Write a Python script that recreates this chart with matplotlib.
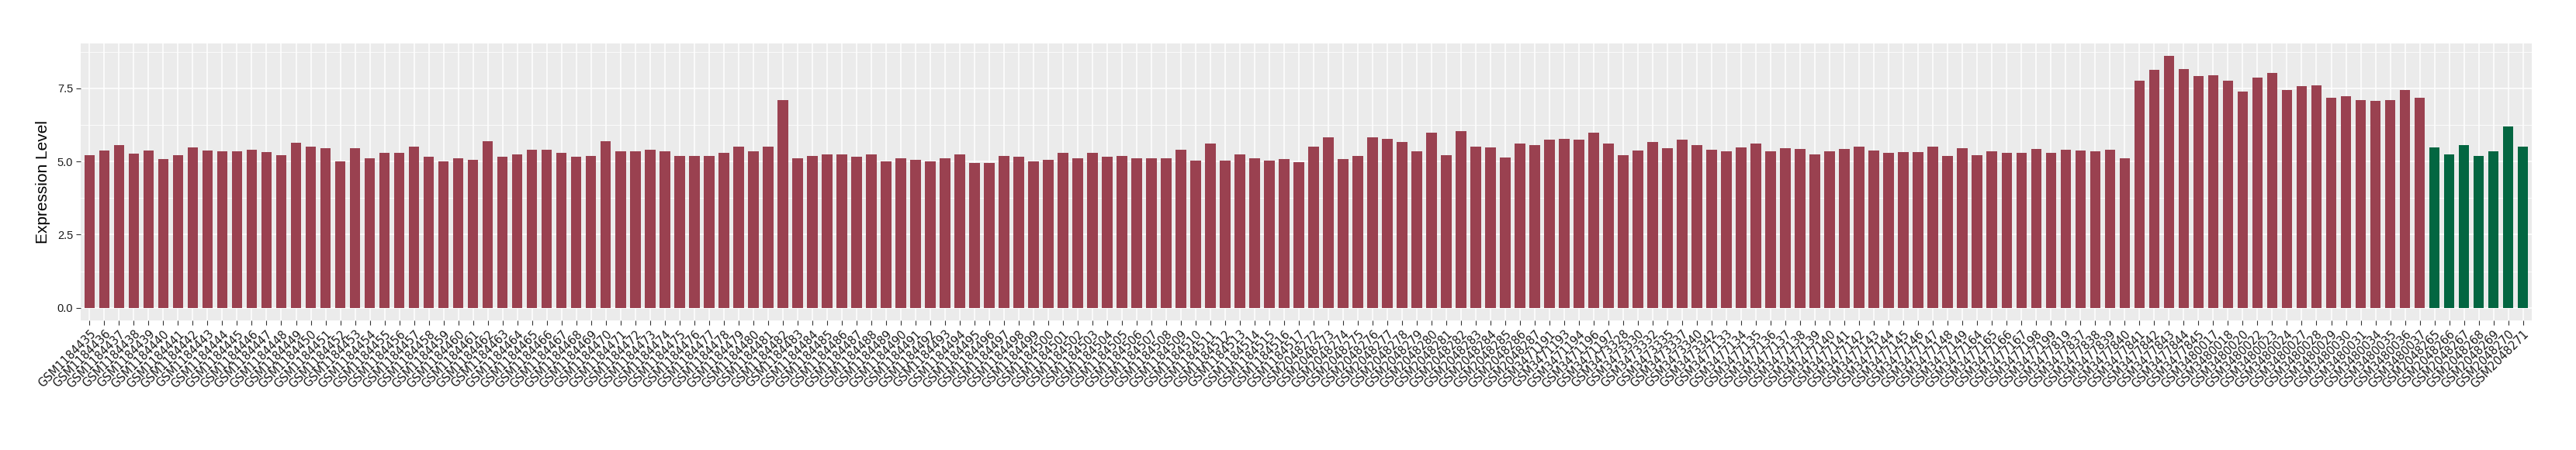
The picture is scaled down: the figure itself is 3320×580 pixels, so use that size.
import matplotlib
matplotlib.use("Agg")
import matplotlib.pyplot as plt
import numpy as np

# sample ids, in plotting order
ids_a = ["GSM%d" % n for n in range(1184435, 1184518)]
ids_b = ["GSM%d" % n for n in range(2048272, 2048288)]
ids_c = ["GSM%d" % n for n in [3471191, 3471193, 3471194, 3471196, 3471197,
                                3473328, 3473330, 3473332, 3473335, 3473337,
                                3473340, 3473342]]
ids_d = ["GSM%d" % n for n in list(range(3477133, 3477150)) +
         [3477164, 3477165, 3477166, 3477167, 3477198, 3477199, 3477819,
          3477837, 3477838, 3477839, 3477840, 3477841, 3477842, 3477843,
          3477844, 3477845]]
ids_e = ["GSM%d" % n for n in [3480017, 3480018, 3480020, 3480022, 3480023,
                                3480024, 3480027, 3480028, 3480029, 3480030,
                                3480031, 3480034, 3480035, 3480036, 3480037]]
ids_green = ["GSM%d" % n for n in range(2048265, 2048272)]

# expression values
vals_red = [
    5.22, 5.37, 5.57, 5.26, 5.37, 5.09, 5.22, 5.49, 5.37, 5.34, 5.34, 5.40,
    5.32, 5.22, 5.64, 5.52, 5.45, 5.00, 5.45, 5.10, 5.30, 5.30, 5.50, 5.15,
    5.00, 5.10, 5.05, 5.70, 5.15, 5.25, 5.40, 5.40, 5.30, 5.15, 5.20, 5.70,
    5.35, 5.35, 5.40, 5.35, 5.20, 5.20, 5.20, 5.30, 5.50, 5.35, 5.50, 7.10,
    5.10, 5.20, 5.25, 5.25, 5.15, 5.25, 5.00, 5.10, 5.05, 5.00, 5.10, 5.25,
    4.95, 4.95, 5.20, 5.15, 5.00, 5.05, 5.30, 5.10, 5.30, 5.15, 5.20, 5.10,
    5.10, 5.12, 5.40, 5.02, 5.60, 5.02, 5.24, 5.12, 5.02, 5.09, 4.97, 5.50,
    5.83, 5.09, 5.19, 5.83, 5.78, 5.67, 5.35, 5.98, 5.22, 6.05, 5.52, 5.47,
    5.14, 5.62, 5.55, 5.75, 5.78, 5.75, 5.98, 5.62, 5.22, 5.37, 5.67, 5.45,
    5.75, 5.55, 5.40, 5.35, 5.47, 5.60, 5.35, 5.45, 5.42, 5.24, 5.35, 5.42,
    5.52, 5.37, 5.30, 5.32, 5.32, 5.52, 5.19, 5.45, 5.22, 5.35, 5.30, 5.30,
    5.42, 5.30, 5.40, 5.37, 5.35, 5.40, 5.12, 7.77, 8.13, 8.61, 8.15, 7.92,
    7.95, 7.77, 7.39, 7.87, 8.03, 7.44, 7.57, 7.60, 7.19, 7.22, 7.11, 7.06,
    7.09, 7.44, 7.17,
]
vals_green = [5.47, 5.24, 5.55, 5.19, 5.35, 6.20, 5.52]

ids_red = ids_a + ids_b + ids_c + ids_d + ids_e
labels = ids_red + ids_green
values = vals_red + vals_green
colors = ["#9A4150"] * len(ids_red) + ["#036641"] * len(ids_green)

fig = plt.figure(figsize=(33.2, 5.8), dpi=100)
ax = fig.add_axes([104 / 3320, 1 - 413 / 580, (3263 - 104) / 3320, (413 - 55.7) / 580])

x = np.arange(len(labels))
ax.set_facecolor("#EBEBEB")
ax.bar(x, values, width=0.72, color=colors, zorder=3)

ax.set_xlim(-0.6, len(labels) - 0.4)
ymax = max(values)
ax.set_ylim(-0.05 * ymax, 1.05 * ymax)

ax.set_yticks([0, 2.5, 5.0, 7.5])
ax.set_yticklabels(["0.0", "2.5", "5.0", "7.5"], fontsize=10.5, color="#1a1a1a",
                   family="Liberation Sans")
ax.set_yticks([1.25, 3.75, 6.25, 8.75], minor=True)
ax.set_xticks(x)
ax.set_xticklabels(labels, rotation=45, ha="right", va="top", rotation_mode="anchor",
                   fontsize=10.5, color="#1a1a1a", family="DejaVu Sans")

ax.grid(True, which="major", color="white", linewidth=1.1, zorder=0)
ax.grid(True, which="minor", axis="y", color="white", linewidth=0.55, zorder=0)
ax.tick_params(axis="both", which="major", length=4, width=0.8, color="#333333", pad=3)
ax.tick_params(axis="y", which="minor", length=0)
for s in ax.spines.values():
    s.set_visible(False)

ax.set_ylabel("Expression Level", fontsize=15, family="Liberation Sans", labelpad=6)

fig.savefig("out.png", dpi=100, facecolor="white")
